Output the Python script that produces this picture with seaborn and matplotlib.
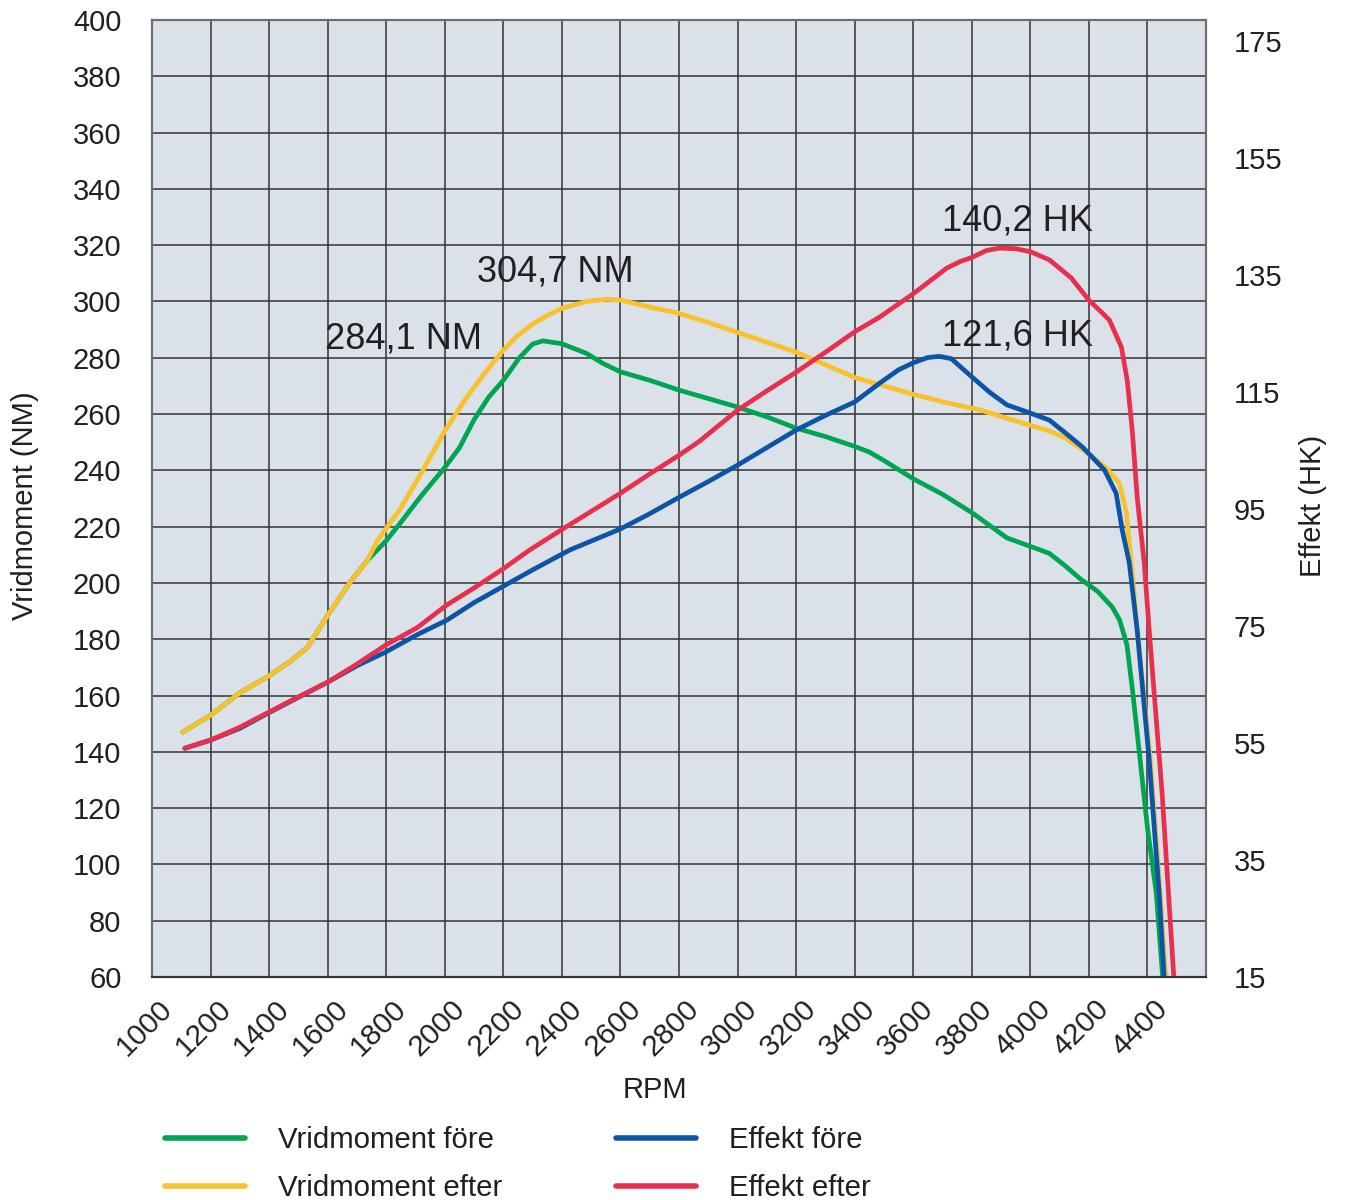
import matplotlib
matplotlib.use("Agg")
import matplotlib.pyplot as plt
import matplotlib.transforms as mtrans
import seaborn as sns

# varvtal och kurvor
rpm_vrid_fore = [1105, 1200, 1300, 1400, 1470, 1530, 1600, 1675, 1735, 1800, 1846, 1920,
                 2000, 2050, 2100, 2150, 2200, 2255, 2300, 2335, 2400, 2485, 2540, 2600, 2700,
                 2800, 2900, 3000, 3100, 3200, 3300, 3400, 3450, 3500, 3600, 3700, 3800,
                 3920, 4000, 4065, 4120, 4170, 4230, 4280, 4305, 4330, 4350, 4372, 4400,
                 4430, 4452]
vrid_fore = [147, 153, 161, 167, 172, 177, 188.5, 200, 208, 215, 221, 231,
             241, 248, 258, 266, 272, 280, 284.9, 286, 285, 281.5, 278, 275, 272,
             268.5, 265.5, 262.5, 259, 255, 252, 248.5, 246.5, 243.5, 237, 231.5, 225,
             216, 213, 210.5, 206, 201.5, 197, 191.4, 186.8, 178, 161, 140, 113,
             90, 60]

rpm_vrid_efter = [1105, 1200, 1300, 1400, 1470, 1530, 1600, 1675, 1735, 1770, 1846, 1925,
                  2000, 2075, 2140, 2200, 2250, 2300, 2350, 2400, 2485, 2553, 2600, 2700,
                  2800, 2900, 3000, 3100, 3200, 3300, 3400, 3500, 3600, 3715, 3830, 3920,
                  4000, 4065, 4120, 4178, 4258, 4304, 4328, 4345, 4365, 4410, 4443, 4462]
vrid_efter = [147, 153, 161, 167, 172, 177, 188.5, 200, 208, 215, 226, 240,
              254, 266, 275, 282.7, 288, 292, 295, 297.6, 300, 300.8, 300.5, 298,
              295.8, 292.5, 289, 285.5, 282, 277.5, 273, 270, 267, 264, 261.4, 258.5,
              256, 254, 251.5, 247.5, 241, 235.5, 225, 207, 183, 137, 90, 60]

rpm_effekt_fore = [1112, 1200, 1300, 1400, 1500, 1600, 1700, 1800, 1905, 2007, 2100, 2200,
                   2300, 2427, 2600, 2700, 2800, 2900, 3000, 3100, 3200, 3300, 3400, 3485,
                   3550, 3600, 3650, 3690, 3730, 3800, 3860, 3920, 4000, 4065, 4120, 4178,
                   4253, 4293, 4314, 4338, 4365, 4406, 4440, 4457]
effekt_fore = [54.1, 55.5, 57.5, 60.2, 62.8, 65.4, 68.2, 70.6, 73.5, 76, 79, 81.8,
               84.6, 88, 91.6, 94.2, 97, 99.7, 102.5, 105.5, 108.5, 111, 113.3, 116.5,
               118.8, 120, 120.9, 121.1, 120.7, 117.6, 115, 112.8, 111.4, 110.2, 108, 105.6,
               101.7, 97.7, 91.4, 85.8, 74.3, 52.1, 29.4, 15]

rpm_effekt_efter = [1112, 1200, 1300, 1400, 1500, 1600, 1700, 1800, 1905, 2007, 2100, 2200,
                    2290, 2400, 2500, 2600, 2700, 2800, 2870, 3000, 3100, 3200, 3300, 3400,
                    3485, 3600, 3715, 3760, 3800, 3850, 3895, 3950, 4000, 4065, 4140, 4200,
                    4240, 4270, 4311, 4331, 4348, 4365, 4389, 4406, 4423, 4450, 4490]
effekt_efter = [54.1, 55.5, 57.7, 60.3, 62.9, 65.4, 68.5, 71.8, 74.7, 78.6, 81.5, 84.8,
                88, 91.5, 94.6, 97.7, 101, 104.2, 106.6, 111.9, 115.2, 118.4, 121.8, 125.3,
                127.8, 131.8, 136.2, 137.3, 138, 139.2, 139.6, 139.5, 139, 137.6, 134.5, 130.7,
                128.8, 127.3, 122.7, 117, 108.5, 97, 85.8, 74.3, 63.5, 46.5, 15]

x_ticks = list(range(1000, 4401, 200))
nm_ticks = list(range(60, 401, 20))
hk_ticks = list(range(15, 176, 20))

text_col = "#231f20"
sns.set_style("white")
plt.rcParams["font.family"] = ["Liberation Sans", "DejaVu Sans"]

fig, ax = plt.subplots(figsize=(13.45, 12), dpi=100)
fig.subplots_adjust(left=152 / 1345, right=1206 / 1345, top=1 - 20 / 1200, bottom=1 - 977 / 1200)
ax.set_facecolor("#dbe1e9")
ax2 = ax.twinx()

lw = 3.4
sns.lineplot(x=rpm_vrid_fore, y=vrid_fore, ax=ax, color="#00a551", lw=lw, sort=False)
sns.lineplot(x=rpm_vrid_efter, y=vrid_efter, ax=ax, color="#f8c22c", lw=lw, sort=False)
sns.lineplot(x=rpm_effekt_fore, y=effekt_fore, ax=ax2, color="#0c54a6", lw=lw, sort=False)
sns.lineplot(x=rpm_effekt_efter, y=effekt_efter, ax=ax2, color="#e8304e", lw=lw, sort=False)

ax.set_xlim(1000, 4600)
ax.set_ylim(60, 400)
ax2.set_ylim(15, 178.6)

ax.set_xticks(x_ticks)
ax.set_yticks(nm_ticks)
ax2.set_yticks(hk_ticks)
ax.grid(True, color="#333333", lw=1.1)
ax.set_axisbelow(True)

ax.tick_params(axis="y", length=0, pad=22, labelsize=21, labelcolor=text_col)
ax2.tick_params(axis="y", length=0, pad=20, labelsize=21, labelcolor=text_col)
ax.tick_params(axis="x", length=0, pad=13, labelsize=21.5, labelcolor=text_col)
ax.set_xticklabels([str(t) for t in x_ticks], rotation=45, ha="right", va="top",
                   rotation_mode="anchor")
offset = mtrans.ScaledTranslation(6 / 100, 0, fig.dpi_scale_trans)
for lab in ax.get_xticklabels():
    lab.set_transform(lab.get_transform() + offset)

for a in (ax, ax2):
    for sp in a.spines.values():
        sp.set_color("#6d6e71")
        sp.set_linewidth(1.5)
ax.spines["bottom"].set_color("#333333")
ax2.spines["bottom"].set_color("#333333")

ax.set_xlabel("RPM", fontsize=21, color=text_col, va="center")
ax.xaxis.set_label_coords((655 - 152) / 1054, -(1090 - 977) / 957)
ax.set_ylabel("Vridmoment (NM)", fontsize=21, color=text_col, va="center")
ax.yaxis.set_label_coords((25 - 152) / 1054, (977 - 506) / 957)
ax2.set_ylabel("Effekt (HK)", fontsize=21, color=text_col, va="center", rotation=90)
ax2.yaxis.set_label_coords((1313 - 152) / 1054, (977 - 506) / 957)

ax.text(2379, 310.5, "304,7 NM", fontsize=26, color=text_col, ha="center", va="center")
ax.text(1860, 286.5, "284,1 NM", fontsize=26, color=text_col, ha="center", va="center")
ax.text(3956, 328.5, "140,2 HK", fontsize=26, color=text_col, ha="center", va="center")
ax.text(3956, 287.8, "121,6 HK", fontsize=26, color=text_col, ha="center", va="center")

handles = [h for h in ax.get_lines() if h.get_xdata().size > 2] + \
          [h for h in ax2.get_lines() if h.get_xdata().size > 2]
labels = ["Vridmoment före", "Vridmoment efter", "Effekt före", "Effekt efter"]
leg = fig.legend(handles, labels, loc="upper left", bbox_to_anchor=(165 / 1345, 1 - 1126 / 1200),
                 ncol=2, frameon=False, fontsize=21.2, handlelength=2.72, handletextpad=1.12,
                 columnspacing=3.85, labelspacing=0.68, borderpad=0, borderaxespad=0)
for t in leg.get_texts():
    t.set_color(text_col)
for h in leg.legend_handles:
    h.set_linewidth(4)

fig.savefig("out.png", dpi=100)
